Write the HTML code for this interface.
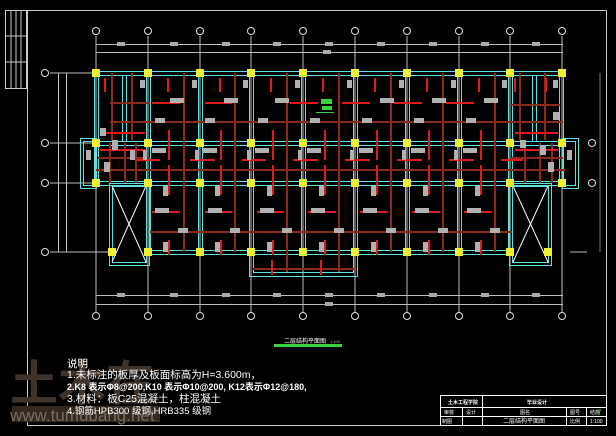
<!DOCTYPE html>
<html><head><meta charset="utf-8"><style>
html,body{margin:0;padding:0;background:#000;width:616px;height:436px;overflow:hidden}
svg{display:block}
text{font-family:"Liberation Sans","Noto Sans CJK SC",sans-serif}
</style></head><body>
<svg width="616" height="436" viewBox="0 0 616 436" xmlns="http://www.w3.org/2000/svg">
<rect width="616" height="436" fill="#000"/>
<g stroke="#c8c8c8" fill="none" stroke-width="1">
<rect x="5.5" y="10.5" width="21" height="78"/>
<line x1="11" y1="10" x2="11" y2="88"/><line x1="16" y1="10" x2="16" y2="88"/><line x1="21" y1="10" x2="21" y2="88"/>
<line x1="5" y1="36" x2="27" y2="36"/><line x1="5" y1="62" x2="27" y2="62"/>
<line x1="27" y1="10.5" x2="606" y2="10.5"/>
<line x1="27.5" y1="10" x2="27.5" y2="425"/>
<line x1="606.5" y1="10" x2="606.5" y2="425"/>
<line x1="27" y1="425.5" x2="606" y2="425.5"/>
</g>
<g stroke="#bdbdbd" stroke-width="1" fill="none">
<line x1="96" y1="36" x2="96" y2="312"/><line x1="148" y1="36" x2="148" y2="312"/><line x1="200" y1="36" x2="200" y2="312"/><line x1="251" y1="36" x2="251" y2="312"/><line x1="303" y1="36" x2="303" y2="312"/><line x1="355" y1="36" x2="355" y2="312"/><line x1="407" y1="36" x2="407" y2="312"/><line x1="459" y1="36" x2="459" y2="312"/><line x1="510" y1="36" x2="510" y2="312"/><line x1="562" y1="36" x2="562" y2="312"/>
<line x1="96" y1="44.5" x2="563" y2="44.5"/><line x1="96" y1="52.5" x2="563" y2="52.5"/>
<line x1="96" y1="295.5" x2="563" y2="295.5"/><line x1="96" y1="304.5" x2="563" y2="304.5"/>
<line x1="50" y1="73" x2="96" y2="73"/><line x1="50" y1="143" x2="96" y2="143"/><line x1="50" y1="183" x2="96" y2="183"/><line x1="50" y1="252" x2="110" y2="252"/>
<line x1="58.5" y1="73" x2="58.5" y2="252"/><line x1="66.5" y1="73" x2="66.5" y2="252"/>
<line x1="570" y1="252" x2="587" y2="252"/>
<line x1="600" y1="73" x2="600" y2="252" stroke="#777"/>
</g>
<g fill="#aaa">
<rect x="117" y="42" width="8" height="4"/><rect x="170" y="42" width="8" height="4"/><rect x="222" y="42" width="8" height="4"/><rect x="273" y="42" width="8" height="4"/><rect x="325" y="42" width="8" height="4"/><rect x="377" y="42" width="8" height="4"/><rect x="429" y="42" width="8" height="4"/><rect x="481" y="42" width="8" height="4"/><rect x="532" y="42" width="8" height="4"/>
<rect x="323" y="50" width="8" height="4"/>
<rect x="117" y="293" width="8" height="4"/><rect x="170" y="293" width="8" height="4"/><rect x="222" y="293" width="8" height="4"/><rect x="273" y="293" width="8" height="4"/><rect x="325" y="293" width="8" height="4"/><rect x="377" y="293" width="8" height="4"/><rect x="429" y="293" width="8" height="4"/><rect x="481" y="293" width="8" height="4"/><rect x="532" y="293" width="8" height="4"/>
<rect x="325" y="302" width="8" height="4"/>
</g>
<g fill="#000" stroke="#e0e0e0" stroke-width="1">
<circle cx="96" cy="31" r="3.5"/><circle cx="148" cy="31" r="3.5"/><circle cx="200" cy="31" r="3.5"/><circle cx="251" cy="31" r="3.5"/><circle cx="303" cy="31" r="3.5"/><circle cx="355" cy="31" r="3.5"/><circle cx="407" cy="31" r="3.5"/><circle cx="459" cy="31" r="3.5"/><circle cx="510" cy="31" r="3.5"/><circle cx="562" cy="31" r="3.5"/>
<circle cx="96" cy="316" r="3.5"/><circle cx="148" cy="316" r="3.5"/><circle cx="200" cy="316" r="3.5"/><circle cx="251" cy="316" r="3.5"/><circle cx="303" cy="316" r="3.5"/><circle cx="355" cy="316" r="3.5"/><circle cx="407" cy="316" r="3.5"/><circle cx="459" cy="316" r="3.5"/><circle cx="510" cy="316" r="3.5"/><circle cx="562" cy="316" r="3.5"/>
<circle cx="45" cy="73" r="3.5"/><circle cx="45" cy="143" r="3.5"/><circle cx="45" cy="183" r="3.5"/><circle cx="45" cy="252" r="3.5"/>
<circle cx="592" cy="143" r="3.5"/><circle cx="592" cy="183" r="3.5"/>
</g>
<g stroke="#5fe0e0" stroke-width="1" fill="none">
<line x1="94" y1="71.5" x2="565" y2="71.5"/><line x1="98" y1="75.5" x2="561" y2="75.5"/>
<line x1="94" y1="141.5" x2="565" y2="141.5"/><line x1="94" y1="145.5" x2="565" y2="145.5"/>
<line x1="94" y1="181.5" x2="565" y2="181.5"/><line x1="94" y1="185.5" x2="565" y2="185.5"/>
<line x1="146" y1="250.5" x2="512" y2="250.5"/><line x1="146" y1="254.5" x2="512" y2="254.5"/>
<line x1="94.5" y1="71" x2="94.5" y2="186"/><line x1="98.5" y1="75" x2="98.5" y2="186"/>
<line x1="563.5" y1="71" x2="563.5" y2="186"/><line x1="559.5" y1="75" x2="559.5" y2="186"/>
<line x1="146.5" y1="71" x2="146.5" y2="255"/><line x1="150.5" y1="71" x2="150.5" y2="255"/>
<line x1="198.5" y1="71" x2="198.5" y2="255"/><line x1="202.5" y1="71" x2="202.5" y2="255"/>
<line x1="249.5" y1="71" x2="249.5" y2="277"/><line x1="253.5" y1="71" x2="253.5" y2="255"/>
<line x1="301.5" y1="71" x2="301.5" y2="255"/><line x1="305.5" y1="71" x2="305.5" y2="255"/>
<line x1="353.5" y1="71" x2="353.5" y2="255"/><line x1="357.5" y1="71" x2="357.5" y2="277"/>
<line x1="405.5" y1="71" x2="405.5" y2="255"/><line x1="409.5" y1="71" x2="409.5" y2="255"/>
<line x1="457.5" y1="71" x2="457.5" y2="255"/><line x1="461.5" y1="71" x2="461.5" y2="255"/>
<line x1="508.5" y1="71" x2="508.5" y2="255"/><line x1="512.5" y1="71" x2="512.5" y2="255"/>
<line x1="122.5" y1="75" x2="122.5" y2="141"/><line x1="126.5" y1="75" x2="126.5" y2="141"/>
<line x1="532.5" y1="75" x2="532.5" y2="141"/><line x1="536.5" y1="75" x2="536.5" y2="141"/>
<rect x="249.5" y="254.5" width="108" height="22"/><rect x="253.5" y="254.5" width="100" height="18"/>
<rect x="109.5" y="183.5" width="40" height="82"/><rect x="112.5" y="186.5" width="34" height="76"/>
<rect x="509.5" y="183.5" width="42" height="82"/><rect x="512.5" y="186.5" width="36" height="76"/>
<rect x="80.5" y="138.5" width="16" height="50"/><rect x="83.5" y="141.5" width="12" height="44"/>
<rect x="562.5" y="138.5" width="16" height="50"/><rect x="563.5" y="141.5" width="12" height="44"/>
</g>
<g stroke="#fff" stroke-width="1">
<line x1="112" y1="186" x2="146" y2="262"/><line x1="146" y1="186" x2="112" y2="262"/>
<line x1="513" y1="186" x2="548" y2="262"/><line x1="548" y1="186" x2="513" y2="262"/>
</g>
<g stroke="#8a2a1a" stroke-width="2">
<line x1="110" y1="122" x2="563" y2="122"/>
<line x1="96" y1="170" x2="565" y2="170"/>
<line x1="110" y1="103" x2="150" y2="103"/>
<line x1="150" y1="232" x2="512" y2="232"/>
<line x1="253" y1="269" x2="355" y2="269"/>
<line x1="98" y1="158" x2="150" y2="158"/><line x1="510" y1="158" x2="563" y2="158"/>
<line x1="510" y1="105" x2="560" y2="105"/>
<line x1="132" y1="73" x2="132" y2="140"/><line x1="112" y1="73" x2="112" y2="140"/>
<line x1="184" y1="73" x2="184" y2="252"/><line x1="235" y1="73" x2="235" y2="252"/>
<line x1="287" y1="73" x2="287" y2="272"/><line x1="339" y1="73" x2="339" y2="272"/>
<line x1="391" y1="73" x2="391" y2="252"/><line x1="443" y1="73" x2="443" y2="252"/>
<line x1="495" y1="73" x2="495" y2="252"/>
<line x1="520" y1="73" x2="520" y2="140"/><line x1="545" y1="73" x2="545" y2="140"/>
<line x1="110" y1="143" x2="110" y2="183"/><line x1="125" y1="143" x2="125" y2="183"/><line x1="136" y1="143" x2="136" y2="183"/>
<line x1="525" y1="143" x2="525" y2="183"/><line x1="540" y1="143" x2="540" y2="183"/><line x1="552" y1="143" x2="552" y2="183"/>
</g>
<g stroke="#e0191b" stroke-width="2" fill="none">
<line x1="168" y1="78" x2="168" y2="92"/><line x1="220" y1="78" x2="220" y2="92"/><line x1="271" y1="78" x2="271" y2="92"/><line x1="323" y1="78" x2="323" y2="92"/><line x1="375" y1="78" x2="375" y2="92"/><line x1="427" y1="78" x2="427" y2="92"/><line x1="479" y1="78" x2="479" y2="92"/><line x1="105" y1="78" x2="105" y2="92"/><line x1="515" y1="78" x2="515" y2="92"/><line x1="546" y1="78" x2="546" y2="92"/>
<line x1="169" y1="130" x2="169" y2="160"/><line x1="221" y1="130" x2="221" y2="160"/><line x1="273" y1="130" x2="273" y2="160"/><line x1="325" y1="130" x2="325" y2="160"/><line x1="377" y1="130" x2="377" y2="160"/><line x1="429" y1="130" x2="429" y2="160"/><line x1="481" y1="130" x2="481" y2="160"/>
<line x1="169" y1="165" x2="169" y2="195"/><line x1="221" y1="165" x2="221" y2="195"/><line x1="273" y1="165" x2="273" y2="195"/><line x1="325" y1="165" x2="325" y2="195"/><line x1="377" y1="165" x2="377" y2="195"/><line x1="429" y1="165" x2="429" y2="195"/><line x1="481" y1="165" x2="481" y2="195"/>
<line x1="169" y1="240" x2="169" y2="255"/><line x1="221" y1="240" x2="221" y2="255"/><line x1="273" y1="240" x2="273" y2="255"/><line x1="325" y1="240" x2="325" y2="255"/><line x1="377" y1="240" x2="377" y2="255"/><line x1="429" y1="240" x2="429" y2="255"/><line x1="481" y1="240" x2="481" y2="255"/>
<line x1="272" y1="260" x2="272" y2="275"/><line x1="321" y1="260" x2="321" y2="275"/>
<line x1="137" y1="160" x2="160" y2="160"/><line x1="190" y1="160" x2="215" y2="160"/><line x1="242" y1="160" x2="266" y2="160"/><line x1="293" y1="160" x2="318" y2="160"/><line x1="345" y1="160" x2="370" y2="160"/><line x1="397" y1="160" x2="422" y2="160"/><line x1="449" y1="160" x2="474" y2="160"/><line x1="501" y1="160" x2="523" y2="160"/>
<line x1="152" y1="103" x2="180" y2="103"/><line x1="205" y1="103" x2="232" y2="103"/><line x1="290" y1="103" x2="318" y2="103"/><line x1="342" y1="103" x2="370" y2="103"/><line x1="394" y1="103" x2="422" y2="103"/><line x1="446" y1="103" x2="474" y2="103"/>
<line x1="152" y1="212" x2="180" y2="212"/><line x1="205" y1="212" x2="232" y2="212"/><line x1="257" y1="212" x2="284" y2="212"/><line x1="308" y1="212" x2="336" y2="212"/><line x1="360" y1="212" x2="388" y2="212"/><line x1="412" y1="212" x2="440" y2="212"/><line x1="464" y1="212" x2="492" y2="212"/>
<line x1="100" y1="133" x2="145" y2="133"/><line x1="515" y1="133" x2="558" y2="133"/>
<line x1="100" y1="150" x2="145" y2="150"/><line x1="515" y1="150" x2="558" y2="150"/>
</g>
<g fill="#b0b0b0">
<rect x="140" y="80" width="5" height="8"/><rect x="192" y="80" width="5" height="8"/><rect x="243" y="80" width="5" height="8"/><rect x="295" y="80" width="5" height="8"/><rect x="347" y="80" width="5" height="8"/><rect x="399" y="80" width="5" height="8"/><rect x="451" y="80" width="5" height="8"/><rect x="502" y="80" width="5" height="8"/><rect x="553" y="80" width="5" height="8"/>
<rect x="170" y="98" width="14" height="5"/><rect x="224" y="98" width="14" height="5"/><rect x="275" y="98" width="14" height="5"/><rect x="380" y="98" width="14" height="5"/><rect x="432" y="98" width="14" height="5"/><rect x="484" y="98" width="14" height="5"/>
<rect x="155" y="118" width="10" height="5"/><rect x="205" y="118" width="10" height="5"/><rect x="258" y="118" width="10" height="5"/><rect x="310" y="118" width="10" height="5"/><rect x="362" y="118" width="10" height="5"/><rect x="414" y="118" width="10" height="5"/><rect x="466" y="118" width="10" height="5"/>
<rect x="152" y="148" width="14" height="5"/><rect x="203" y="148" width="14" height="5"/><rect x="255" y="148" width="14" height="5"/><rect x="307" y="148" width="14" height="5"/><rect x="359" y="148" width="14" height="5"/><rect x="411" y="148" width="14" height="5"/><rect x="463" y="148" width="14" height="5"/>
<rect x="143" y="150" width="4" height="10"/><rect x="195" y="150" width="4" height="10"/><rect x="247" y="150" width="4" height="10"/><rect x="298" y="150" width="4" height="10"/><rect x="350" y="150" width="4" height="10"/><rect x="402" y="150" width="4" height="10"/><rect x="454" y="150" width="4" height="10"/>
<rect x="163" y="186" width="5" height="10"/><rect x="215" y="186" width="5" height="10"/><rect x="267" y="186" width="5" height="10"/><rect x="319" y="186" width="5" height="10"/><rect x="371" y="186" width="5" height="10"/><rect x="423" y="186" width="5" height="10"/><rect x="475" y="186" width="5" height="10"/>
<rect x="155" y="208" width="14" height="5"/><rect x="208" y="208" width="14" height="5"/><rect x="260" y="208" width="14" height="5"/><rect x="311" y="208" width="14" height="5"/><rect x="363" y="208" width="14" height="5"/><rect x="415" y="208" width="14" height="5"/><rect x="467" y="208" width="14" height="5"/>
<rect x="178" y="228" width="10" height="5"/><rect x="230" y="228" width="10" height="5"/><rect x="282" y="228" width="10" height="5"/><rect x="334" y="228" width="10" height="5"/><rect x="386" y="228" width="10" height="5"/><rect x="438" y="228" width="10" height="5"/><rect x="490" y="228" width="10" height="5"/>
<rect x="163" y="242" width="5" height="10"/><rect x="215" y="242" width="5" height="10"/><rect x="267" y="242" width="5" height="10"/><rect x="319" y="242" width="5" height="10"/><rect x="371" y="242" width="5" height="10"/><rect x="423" y="242" width="5" height="10"/><rect x="475" y="242" width="5" height="10"/>
<rect x="100" y="128" width="6" height="8"/><rect x="112" y="140" width="6" height="10"/><rect x="86" y="150" width="5" height="10"/><rect x="104" y="162" width="6" height="10"/><rect x="130" y="150" width="5" height="10"/>
<rect x="540" y="145" width="6" height="10"/><rect x="520" y="140" width="6" height="8"/><rect x="567" y="150" width="5" height="10"/><rect x="548" y="162" width="6" height="10"/><rect x="553" y="112" width="6" height="8"/>
</g>
<g fill="#3ad23a">
<rect x="321" y="99" width="11" height="5"/><rect x="322" y="106" width="10" height="4"/><rect x="316" y="112" width="18" height="1"/>
<rect x="274" y="344" width="68" height="3"/>
</g>
<g fill="#f0f034">
<rect x="92" y="69" width="8" height="8"/><rect x="144" y="69" width="8" height="8"/><rect x="196" y="69" width="8" height="8"/><rect x="247" y="69" width="8" height="8"/><rect x="299" y="69" width="8" height="8"/><rect x="351" y="69" width="8" height="8"/><rect x="403" y="69" width="8" height="8"/><rect x="455" y="69" width="8" height="8"/><rect x="506" y="69" width="8" height="8"/><rect x="558" y="69" width="8" height="8"/>
<rect x="92" y="139" width="8" height="8"/><rect x="144" y="139" width="8" height="8"/><rect x="196" y="139" width="8" height="8"/><rect x="247" y="139" width="8" height="8"/><rect x="299" y="139" width="8" height="8"/><rect x="351" y="139" width="8" height="8"/><rect x="403" y="139" width="8" height="8"/><rect x="455" y="139" width="8" height="8"/><rect x="506" y="139" width="8" height="8"/><rect x="558" y="139" width="8" height="8"/>
<rect x="92" y="179" width="8" height="8"/><rect x="144" y="179" width="8" height="8"/><rect x="196" y="179" width="8" height="8"/><rect x="247" y="179" width="8" height="8"/><rect x="299" y="179" width="8" height="8"/><rect x="351" y="179" width="8" height="8"/><rect x="403" y="179" width="8" height="8"/><rect x="455" y="179" width="8" height="8"/><rect x="506" y="179" width="8" height="8"/><rect x="558" y="179" width="8" height="8"/>
<rect x="144" y="248" width="8" height="8"/><rect x="196" y="248" width="8" height="8"/><rect x="247" y="248" width="8" height="8"/><rect x="299" y="248" width="8" height="8"/><rect x="351" y="248" width="8" height="8"/><rect x="403" y="248" width="8" height="8"/><rect x="455" y="248" width="8" height="8"/><rect x="506" y="248" width="8" height="8"/>
<rect x="108" y="248" width="8" height="8"/><rect x="544" y="248" width="8" height="8"/>
</g>
<text x="284" y="343" font-size="6" fill="#fff">二层结构平面图</text>
<text x="330" y="343" font-size="4" fill="#aaa">1:100</text>
<text x="10" y="400" font-size="48" fill="#3e322a" font-weight="bold">土木在</text>
<rect x="12" y="406" width="148" height="16" fill="#33291f"/>
<text x="10" y="421" font-size="17" fill="#7a6c60">www.tumubang.net</text>
<g fill="#fff" font-size="10.5">
<text x="67" y="367">说明</text>
<text x="67" y="378">1.未标注的板厚及板面标高为H=3.600m，</text>
<text x="67" y="390" font-size="9" font-weight="bold">2.K8 表示Φ8@200,K10 表示Φ10@200, K12表示Φ12@180,</text>
<text x="67" y="402">3.材料：板C25混凝土，柱混凝土</text>
<text x="67" y="414" font-size="9.5">4.钢筋HPB300 级钢,HRB335 级钢</text>
</g>
<g stroke="#fff" stroke-width="1" fill="none">
<rect x="440.5" y="395.5" width="166" height="30"/>
<line x1="440" y1="407.5" x2="606" y2="407.5"/>
<line x1="440" y1="416.5" x2="606" y2="416.5"/>
<line x1="482.5" y1="395" x2="482.5" y2="426"/>
<line x1="462.5" y1="407" x2="462.5" y2="426"/>
<line x1="566.5" y1="407" x2="566.5" y2="426"/>
<line x1="586.5" y1="407" x2="586.5" y2="426"/>
</g>
<g fill="#fff" font-size="5">
<text x="448" y="404" font-weight="bold">土木工程学院</text>
<text x="527" y="404" font-weight="bold">毕业设计</text>
<text x="444" y="414">审核</text><text x="466" y="414">设计</text><text x="520" y="414">图名</text><text x="570" y="414">图号</text><text x="590" y="414">结施</text>
<text x="442" y="423">制图</text><text x="503" y="423" font-size="6">二层结构平面图</text><text x="570" y="423">比例</text><text x="590" y="423">1:100</text>
</g>
<text x="598" y="414" font-size="6" fill="#3ad23a">7</text>
</svg>
</body></html>
